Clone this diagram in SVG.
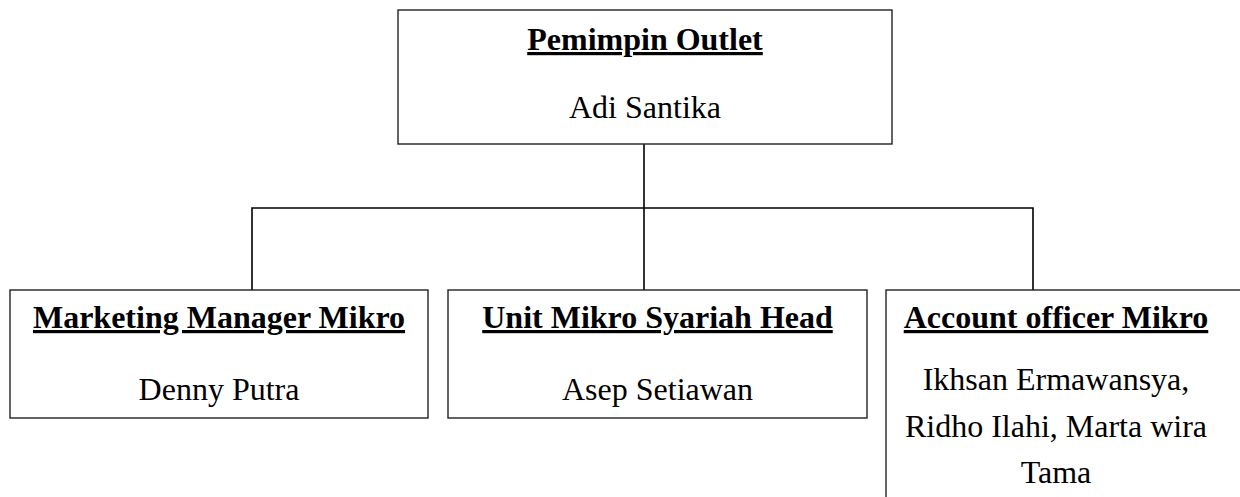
<svg xmlns="http://www.w3.org/2000/svg" width="1240" height="497" viewBox="0 0 1240 497">
<style>
.box{fill:#fff;stroke:#222;stroke-width:1.4}
.con{fill:none;stroke:#000;stroke-width:1.6}
text{font-family:"Liberation Serif","Times New Roman",serif;font-size:32px;fill:#000;text-anchor:middle}
.t{font-weight:bold;text-decoration:underline;text-decoration-thickness:3px;text-underline-offset:4px}
</style>
<rect width="1240" height="497" fill="#fff"/>
<g id="connectors">
<path class="con" d="M644,144 V290"/>
<path class="con" d="M252,290 V208 H1033 V290"/>
</g>
<g id="pemimpin">
<rect class="box" x="398" y="10" width="494" height="134"/>
<text class="t" x="645" y="50">Pemimpin Outlet</text>
<text x="645" y="118">Adi Santika</text>
</g>
<g id="marketing">
<rect class="box" x="10" y="290" width="418" height="128"/>
<text class="t" x="219" y="328">Marketing Manager Mikro</text>
<text x="219" y="400">Denny Putra</text>
</g>
<g id="unit">
<rect class="box" x="448" y="290" width="419" height="128"/>
<text class="t" x="657.5" y="328">Unit Mikro Syariah Head</text>
<text x="657.5" y="400">Asep Setiawan</text>
</g>
<g id="account">
<rect class="box" x="886" y="290" width="400" height="260"/>
<text class="t" x="1056" y="328">Account officer Mikro</text>
<text x="1056" y="390">Ikhsan Ermawansya,</text>
<text x="1056" y="436.5">Ridho Ilahi, Marta wira</text>
<text x="1056" y="483">Tama</text>
</g>
</svg>
